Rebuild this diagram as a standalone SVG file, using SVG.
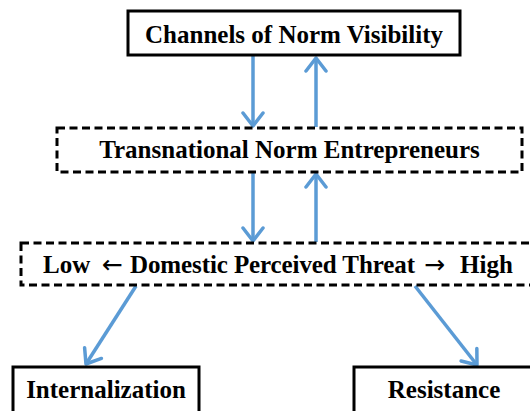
<svg xmlns="http://www.w3.org/2000/svg" width="530" height="411" viewBox="0 0 530 411">
<defs>
<style>
.box{fill:#fff;stroke:#000;stroke-width:3}
.dash{fill:#fff;stroke:#000;stroke-width:3;stroke-dasharray:8 4.5}
.lbl{font-family:"Liberation Serif","Times New Roman",serif;font-weight:bold;font-size:25px;fill:#000}
.arr{font-family:"DejaVu Sans",sans-serif;font-weight:normal;font-size:25px}
.conn{stroke:#5b9bd5;stroke-width:3.5;fill:none;marker-end:url(#ah)}
</style>
<marker id="ah" viewBox="-18 -12 22 24" refX="0" refY="0" markerWidth="22" markerHeight="24" markerUnits="userSpaceOnUse" orient="auto">
<path d="M-13,-10 L0,0 L-13,10" fill="none" stroke="#5b9bd5" stroke-width="3.5" stroke-linecap="round" stroke-linejoin="round"/>
</marker>
</defs>
<rect width="530" height="411" fill="#fff"/>
<g id="connectors">
<line class="conn" x1="253" y1="56" x2="253" y2="126"/>
<line class="conn" x1="316" y1="127" x2="316" y2="58"/>
<line class="conn" x1="253" y1="173" x2="253" y2="241"/>
<line class="conn" x1="316" y1="242" x2="316" y2="174"/>
<line class="conn" x1="136" y1="286" x2="86" y2="364"/>
<line class="conn" x1="415" y1="286" x2="477" y2="365"/>
</g>
<g id="channels">
<rect class="box" x="128" y="11" width="332" height="44"/>
<text class="lbl" x="294" y="43" text-anchor="middle">Channels of Norm Visibility</text>
</g>
<g id="entrepreneurs">
<rect class="dash" x="57" y="128" width="465" height="44"/>
<text class="lbl" x="289.5" y="158" text-anchor="middle">Transnational Norm Entrepreneurs</text>
</g>
<g id="threat">
<rect class="dash" x="21" y="243" width="512" height="42"/>
<text class="lbl" y="273"><tspan x="43">Low</tspan><tspan class="arr" x="102">←</tspan><tspan x="130" textLength="285" lengthAdjust="spacing">Domestic Perceived Threat</tspan><tspan class="arr" x="424">→</tspan><tspan x="460">High</tspan></text>
</g>
<g id="internalization">
<rect class="box" x="13" y="367" width="186" height="50"/>
<text class="lbl" x="106" y="398" text-anchor="middle">Internalization</text>
</g>
<g id="resistance">
<rect class="box" x="354" y="367" width="182" height="50"/>
<text class="lbl" x="444" y="398" text-anchor="middle">Resistance</text>
</g>
</svg>
